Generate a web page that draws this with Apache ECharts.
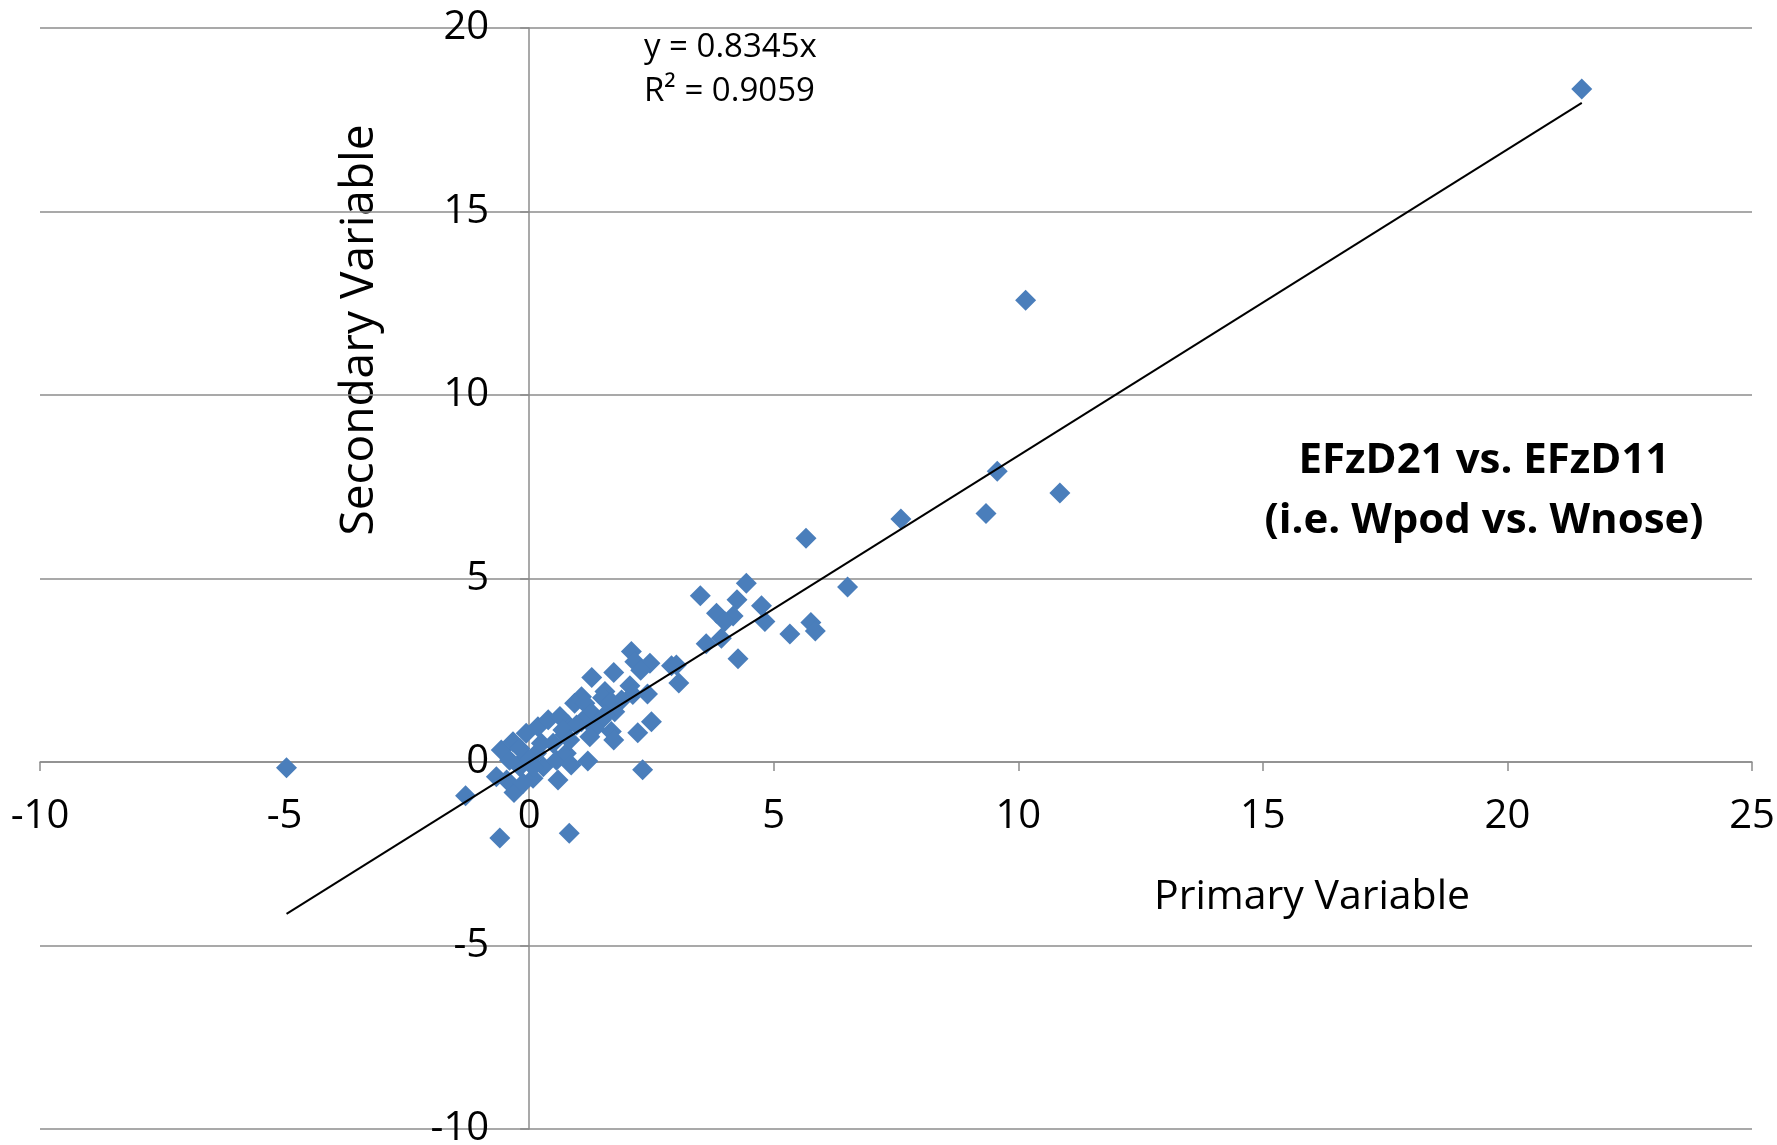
<!DOCTYPE html>
<html>
<head>
<meta charset="utf-8">
<script src="https://cdn.jsdelivr.net/npm/echarts@6/dist/echarts.min.js"></script>
<style>
html,body{margin:0;padding:0;background:#fff;}
#chart{width:1777px;height:1145px;}
</style>
</head>
<body>
<div id="chart"></div>
<script>
// Points: [primary, secondary]
const outlierPoints = [
  [21.52, 18.34], [10.15, 12.58], [9.57, 7.92], [10.85, 7.33], [9.34, 6.77],
  [7.60, 6.62], [5.66, 6.10], [6.51, 4.77], [5.76, 3.80], [5.85, 3.57],
  [5.33, 3.49], [4.44, 4.87], [4.75, 4.26], [4.82, 3.83], [4.27, 2.81],
  [4.25, 4.42], [3.50, 4.53], [3.83, 4.05], [4.17, 3.98], [4.00, 3.83],
  [3.93, 3.37], [3.62, 3.22], [-4.96, -0.16], [-1.30, -0.92], [-0.60, -2.07],
  [0.82, -1.94], [2.32, -0.21]
];
const midPoints = [
  [2.09, 3.01], [2.16, 2.73], [2.47, 2.69], [2.28, 2.50], [2.91, 2.62],
  [3.01, 2.64], [3.06, 2.15], [1.73, 2.44], [1.28, 2.30], [2.06, 2.08],
  [2.42, 1.85], [2.12, 1.84], [1.55, 1.92], [1.50, 1.75], [1.07, 1.78],
  [1.89, 1.69], [1.68, 1.64], [0.93, 1.60], [1.14, 1.60], [1.75, 1.37],
  [1.27, 1.35], [1.55, 1.28], [1.48, 1.15], [2.50, 1.10], [2.22, 0.80],
  [1.68, 0.83], [1.34, 0.92], [1.07, 1.10], [0.80, 1.01], [1.73, 0.60],
  [0.73, 0.74], [1.24, 0.69], [1.20, 0.03]
];
const densePoints = [
  [0.59, -0.49], [-0.31, -0.83], [-0.67, -0.40], [-0.57, 0.33], [-0.33, 0.55],
  [-0.06, 0.78], [0.18, 0.96], [0.39, 1.15], [0.63, 1.24], [0.97, 1.01],
  [0.69, 0.87], [-0.19, -0.13], [0.08, -0.44], [0.29, -0.13], [0.56, 0.05],
  [0.76, 0.24], [0.83, 0.60], [0.49, 0.51], [0.15, 0.24], [-0.06, 0.14],
  [-0.40, 0.05], [-0.46, -0.49], [-0.12, -0.58], [0.25, 0.51], [-0.19, 0.37],
  [0.86, -0.08], [0.08, -0.13]
];
const trendSlope = 0.8345;
const trendXRange = [-4.96, 21.52];
const equationText = 'y = 0.8345x';
const r2Text = 'R² = 0.9059';
const xTitle = 'Primary Variable';
const yTitle = 'Secondary Variable';
const noteLines = ['EFzD21 vs. EFzD11', '(i.e. Wpod vs. Wnose)'];

const allPoints = outlierPoints.concat(midPoints, densePoints);
const trendData = trendXRange.map(x => [x, trendSlope * x]);

const FONT = '"Open Sans", "Noto Sans", sans-serif';
const GRAY = '#8c8c8c';

const W = 1777, H = 1145;
const G = {left: 40, right: 25, top: 28, bottom: 16};
const xMin = -10, xMax = 25, yMin = -10, yMax = 20;
const gw = W - G.left - G.right, gh = H - G.top - G.bottom;
// move axes so they cross at the origin, as in the reference
const xAxisOffset = -((0 - yMin) / (yMax - yMin)) * gh;
const yAxisOffset = -((0 - xMin) / (xMax - xMin)) * gw;

const chart = echarts.init(document.getElementById('chart'), null, {renderer: 'canvas'});
chart.setOption({
  animation: false,
  backgroundColor: '#fff',
  grid: Object.assign({containLabel: false, outerBoundsMode: 'none'}, G),
  xAxis: {
    type: 'value', min: xMin, max: xMax, interval: 5,
    position: 'bottom', offset: xAxisOffset,
    axisLine: {show: true, onZero: false, lineStyle: {color: GRAY, width: 1.5}},
    axisTick: {show: true, length: 9, lineStyle: {color: GRAY, width: 1.5}},
    axisLabel: {fontFamily: FONT, fontSize: 40, color: '#000', margin: 35},
    splitLine: {show: false}
  },
  yAxis: {
    type: 'value', min: yMin, max: yMax, interval: 5,
    position: 'left', offset: yAxisOffset,
    axisLine: {show: true, onZero: false, lineStyle: {color: GRAY, width: 1.5}},
    axisTick: {show: true, length: 9, lineStyle: {color: GRAY, width: 1.5}},
    axisLabel: {fontFamily: FONT, fontSize: 40, color: '#000', margin: 40},
    splitLine: {show: true, lineStyle: {color: GRAY, width: 1.5}}
  },
  series: [
    {
      type: 'scatter', data: allPoints, symbol: 'diamond', symbolSize: [21, 21],
      itemStyle: {color: '#4a7ebb', opacity: 1}, z: 3
    },
    {
      type: 'line', data: trendData, symbol: 'none',
      lineStyle: {color: '#000', width: 2}, z: 4
    }
  ],
  graphic: [
    {type: 'text', left: 644, top: 31, style: {text: equationText, font: '33px ' + FONT, fill: '#000'}},
    {type: 'text', left: 644, top: 75, style: {text: r2Text, font: '33px ' + FONT, fill: '#000'}},
    {type: 'text', x: 1312, y: 897, style: {text: xTitle, font: '41px ' + FONT, fill: '#000', textAlign: 'center', textVerticalAlign: 'middle'}},
    {type: 'text', x: 360, y: 330, rotation: Math.PI / 2, style: {text: yTitle, font: '46px ' + FONT, fill: '#000', textAlign: 'center', textVerticalAlign: 'middle'}},
    {type: 'text', x: 1484, y: 461, style: {text: noteLines[0], font: 'bold 42px ' + FONT, fill: '#000', textAlign: 'center', textVerticalAlign: 'middle'}},
    {type: 'text', x: 1484, y: 521, style: {text: noteLines[1], font: 'bold 42px ' + FONT, fill: '#000', textAlign: 'center', textVerticalAlign: 'middle'}}
  ]
});
</script>
</body>
</html>
